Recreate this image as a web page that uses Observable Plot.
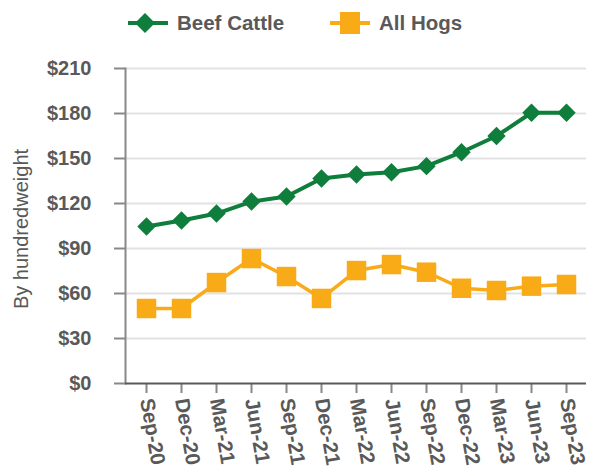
<!DOCTYPE html>
<html><head><meta charset="utf-8">
<script src="https://cdn.jsdelivr.net/npm/d3@7"></script>
<script src="https://cdn.jsdelivr.net/npm/@observablehq/plot@0.6"></script>
<style>
body{margin:0;background:#fff;font-family:"Liberation Sans",Arial,sans-serif;}
#legend{height:45px;position:relative;width:592px;}
.item{position:absolute;top:12px;height:22px;display:flex;align-items:center;font-size:20.5px;font-weight:bold;color:#595959;}
.item svg{margin-right:9px;flex:none;}
</style></head><body>
<div id="legend"></div><div id="chart"></div>
<script>
const quarters = ["Sep-20","Dec-20","Mar-21","Jun-21","Sep-21","Dec-21","Mar-22","Jun-22","Sep-22","Dec-22","Mar-23","Jun-23","Sep-23"];
const beefCattle = [104.7,108.7,113.3,121.3,124.7,136.7,139.3,140.8,144.9,154.2,165,180.5,180.5];
const allHogs = [50,50,67.3,83.3,71.3,56.7,75.3,79.3,74.2,63.5,62,64.9,66];
const yTicks = [0,30,60,90,120,150,180,210];
const seriesNames = ["Beef Cattle","All Hogs"];
const colors = ["#0f7d3b","#f9ab17"];

// legend
const legend = document.getElementById("legend");
const lefts = [128, 330];
seriesNames.forEach((name, i) => {
  const div = document.createElement("div");
  div.className = "item";
  div.style.left = lefts[i] + "px";
  const sym = i === 0
    ? `<polygon points="17,1 27,11 17,21 7,11" fill="${colors[i]}"/>`
    : `<rect x="10" y="0" width="20" height="22" fill="${colors[i]}"/>`;
  div.innerHTML = `<svg width="40" height="22"><line x1="0" x2="40" y1="11" y2="11" stroke="${colors[i]}" stroke-width="4"/>${sym}</svg><span>${name}</span>`;
  legend.appendChild(div);
});

const chart = Plot.plot({
  width: 592,
  height: 422,
  marginTop: 23,
  marginBottom: 84,
  marginLeft: 125,
  marginRight: 6,
  style: {fontFamily: "Liberation Sans, Arial, sans-serif", color: "#595959", background: "white", overflow: "visible"},
  x: {type: "point", domain: quarters, padding: 0.5},
  y: {domain: [0, 210]},
  marks: [
    Plot.ruleY(yTicks.filter(d => d > 0), {stroke: "#e2e2e2", strokeWidth: 2}),
    Plot.axisY({ticks: yTicks, tickSize: 11, tickPadding: 23, tickFormat: d => "$" + d, fontSize: 20, fontWeight: "bold", stroke: "#888", strokeWidth: 2, label: null}),
    Plot.text(["By hundredweight"], {frameAnchor: "left", textAnchor: "middle", rotate: -90, dx: -104, dy: 3, fontSize: 20, fill: "#595959"}),
    Plot.axisX({tickSize: 10, tickPadding: 5, tickRotate: 80, fontSize: 20.5, fontWeight: "bold", stroke: "#888", strokeWidth: 2, label: null}),
    Plot.frame({anchor: "left", stroke: "#888", strokeWidth: 2}),
    Plot.ruleY([0], {stroke: "#595959", strokeWidth: 2}),
    Plot.lineY(allHogs, {x: quarters, stroke: colors[1], strokeWidth: 3.5}),
    Plot.dot(allHogs, {x: quarters, y: d => d, symbol: "square", r: 11, fill: colors[1]}),
    Plot.lineY(beefCattle, {x: quarters, stroke: colors[0], strokeWidth: 4}),
    Plot.dot(beefCattle, {x: quarters, y: d => d, symbol: "diamond2", r: 8.3, fill: colors[0]})
  ]
});
document.getElementById("chart").appendChild(chart);
</script>
</body></html>
